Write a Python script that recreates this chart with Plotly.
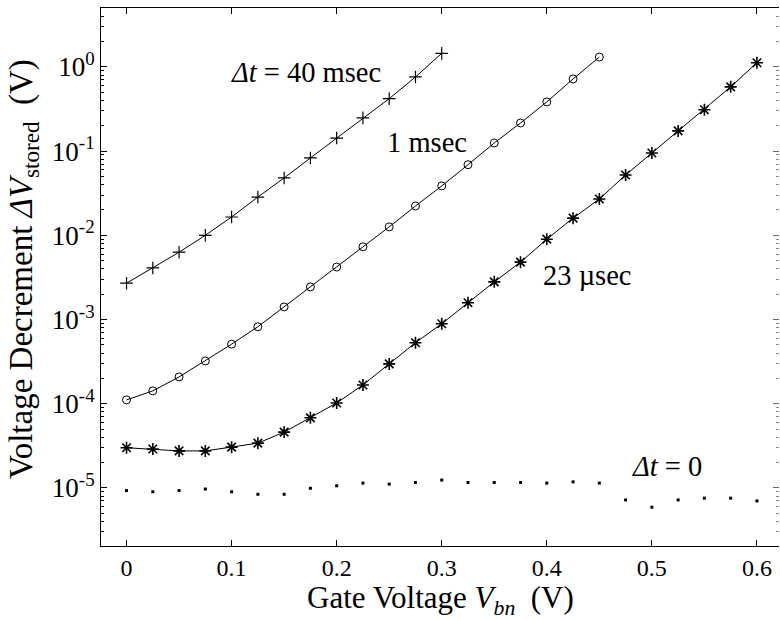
import math
import plotly.graph_objects as go

# Gate voltage grid (V)
x_40ms = [0, 0.025, 0.05, 0.075, 0.1, 0.125, 0.15, 0.175, 0.2, 0.225, 0.25, 0.275, 0.3]
y_40ms = [2.7e-3, 4.1e-3, 6.3e-3, 1.0e-2, 1.65e-2, 2.85e-2, 4.8e-2, 8.3e-2, 0.143, 0.248, 0.42, 0.76, 1.45]

x_1ms = [0, 0.025, 0.05, 0.075, 0.1, 0.125, 0.15, 0.175, 0.2, 0.225, 0.25, 0.275,
         0.3, 0.325, 0.35, 0.375, 0.4, 0.425, 0.45]
y_1ms = [1.11e-4, 1.42e-4, 2.08e-4, 3.22e-4, 5.1e-4, 8.2e-4, 1.41e-3, 2.44e-3, 4.2e-3,
         7.3e-3, 1.26e-2, 2.23e-2, 3.86e-2, 6.9e-2, 0.125, 0.216, 0.384, 0.72, 1.31]

x_23us = [0, 0.025, 0.05, 0.075, 0.1, 0.125, 0.15, 0.175, 0.2, 0.225, 0.25, 0.275, 0.3,
          0.325, 0.35, 0.375, 0.4, 0.425, 0.45, 0.475, 0.5, 0.525, 0.55, 0.575, 0.6]
y_23us = [3.0e-5, 2.9e-5, 2.75e-5, 2.75e-5, 3.05e-5, 3.4e-5, 4.6e-5, 6.8e-5, 1.02e-4,
          1.67e-4, 2.97e-4, 5.3e-4, 8.9e-4, 1.58e-3, 2.8e-3, 4.8e-3, 9.0e-3, 1.6e-2,
          2.7e-2, 5.2e-2, 9.5e-2, 0.174, 0.31, 0.58, 1.12]

x_0 = x_23us
y_0 = [9.3e-6, 9.0e-6, 9.3e-6, 9.7e-6, 9.0e-6, 8.4e-6, 8.4e-6, 9.9e-6, 1.06e-5, 1.14e-5,
       1.11e-5, 1.16e-5, 1.24e-5, 1.16e-5, 1.16e-5, 1.16e-5, 1.14e-5, 1.18e-5, 1.14e-5,
       7.2e-6, 5.9e-6, 7.2e-6, 7.55e-6, 7.55e-6, 7.0e-6]

x_ticks = [0, 0.1, 0.2, 0.3, 0.4, 0.5, 0.6]
x_ticklabels = ["0", "0.1", "0.2", "0.3", "0.4", "0.5", "0.6"]
y_ticks = [1e-5, 1e-4, 1e-3, 1e-2, 1e-1, 1e0]
y_ticklabels = ["10<sup>-5</sup>", "10<sup>-4</sup>", "10<sup>-3</sup>",
                "10<sup>-2</sup>", "10<sup>-1</sup>", "10<sup>0</sup>"]
y_minor = [m * 10.0 ** e for e in range(-6, 1) for m in range(2, 10)]

# curve labels: (text, x, y)
labels = [
    ("<i>Δt</i> = 40 msec", 0.171, 0.85),
    ("1 msec", 0.286, 0.125),
    ("23 µsec", 0.438, 3.3e-3),
    ("<i>Δt</i> = 0", 0.514, 1.8e-5),
]

FONT = "Liberation Serif"
BLACK = "black"

fig = go.Figure()
fig.add_trace(go.Scatter(x=x_40ms, y=y_40ms, mode="lines+markers",
                         line=dict(color=BLACK, width=1),
                         marker=dict(symbol="cross-thin", size=9, color=BLACK,
                                     line=dict(color=BLACK, width=1.2))))
fig.add_trace(go.Scatter(x=x_1ms, y=y_1ms, mode="lines+markers",
                         line=dict(color=BLACK, width=1),
                         marker=dict(symbol="circle-open", size=8, color=BLACK,
                                     line=dict(color=BLACK, width=1))))
fig.add_trace(go.Scatter(x=x_23us, y=y_23us, mode="lines+markers",
                         line=dict(color=BLACK, width=1),
                         marker=dict(symbol="asterisk-open", size=10, color=BLACK,
                                     line=dict(color=BLACK, width=1.6))))
fig.add_trace(go.Scatter(x=x_0, y=y_0, mode="markers",
                         marker=dict(symbol="square", size=3, color=BLACK)))
# invisible trace on right axis for mirrored ticks
fig.add_trace(go.Scatter(x=[x_0[0]], y=[y_0[0]], mode="markers", yaxis="y2",
                         marker=dict(size=0.1, opacity=0), hoverinfo="skip"))

fig.update_layout(
    width=780, height=620,
    margin=dict(l=101, r=1, t=8, b=74),
    paper_bgcolor="white", plot_bgcolor="white",
    showlegend=False,
    font=dict(family=FONT, color=BLACK, size=24),
    xaxis=dict(range=[-0.0243, 0.621], tickvals=x_ticks, ticktext=x_ticklabels,
               ticks="inside", ticklen=6, tickwidth=1, tickcolor=BLACK,
               showline=True, linecolor=BLACK, linewidth=1, mirror="ticks",
               showgrid=False, zeroline=False,
               tickfont=dict(family=FONT, size=24)),
    yaxis=dict(type="log", range=[-5.69, 0.70], tickvals=y_ticks, ticktext=y_ticklabels,
               ticks="inside", ticklen=6, tickwidth=1, tickcolor=BLACK,
               showline=True, linecolor=BLACK, linewidth=1,
               showgrid=False, zeroline=False,
               minor=dict(tickvals=y_minor, ticks="inside", ticklen=3, tickcolor=BLACK),
               tickfont=dict(family=FONT, size=27)),
    yaxis2=dict(type="log", range=[-5.69, 0.70], overlaying="y", side="right",
                tickvals=y_ticks, showticklabels=False,
                ticks="inside", ticklen=6, tickwidth=1, tickcolor="#666",
                showline=False, showgrid=False, zeroline=False,
                minor=dict(tickvals=y_minor, ticks="inside", ticklen=3, tickcolor="#888")),
)

fig.add_annotation(text="Gate Voltage <i>V<sub>bn</sub></i>  (V)",
                   xref="paper", yref="paper", x=0.5, y=-0.100, yanchor="middle",
                   showarrow=False, font=dict(family=FONT, size=31))
fig.add_annotation(text="Voltage Decrement <i>ΔV</i><sub>stored</sub>  (V)",
                   xref="paper", yref="paper", x=-0.1136, y=0.515, textangle=-90,
                   xanchor="center", yanchor="middle",
                   showarrow=False, font=dict(family=FONT, size=33))

for text, lx, ly in labels:
    fig.add_annotation(text=text, x=lx, y=math.log10(ly), showarrow=False,
                       font=dict(family=FONT, size=28.5))

fig.write_html("out.html", config={"displayModeBar": False},
               post_script="document.body.style.margin='0px';")
